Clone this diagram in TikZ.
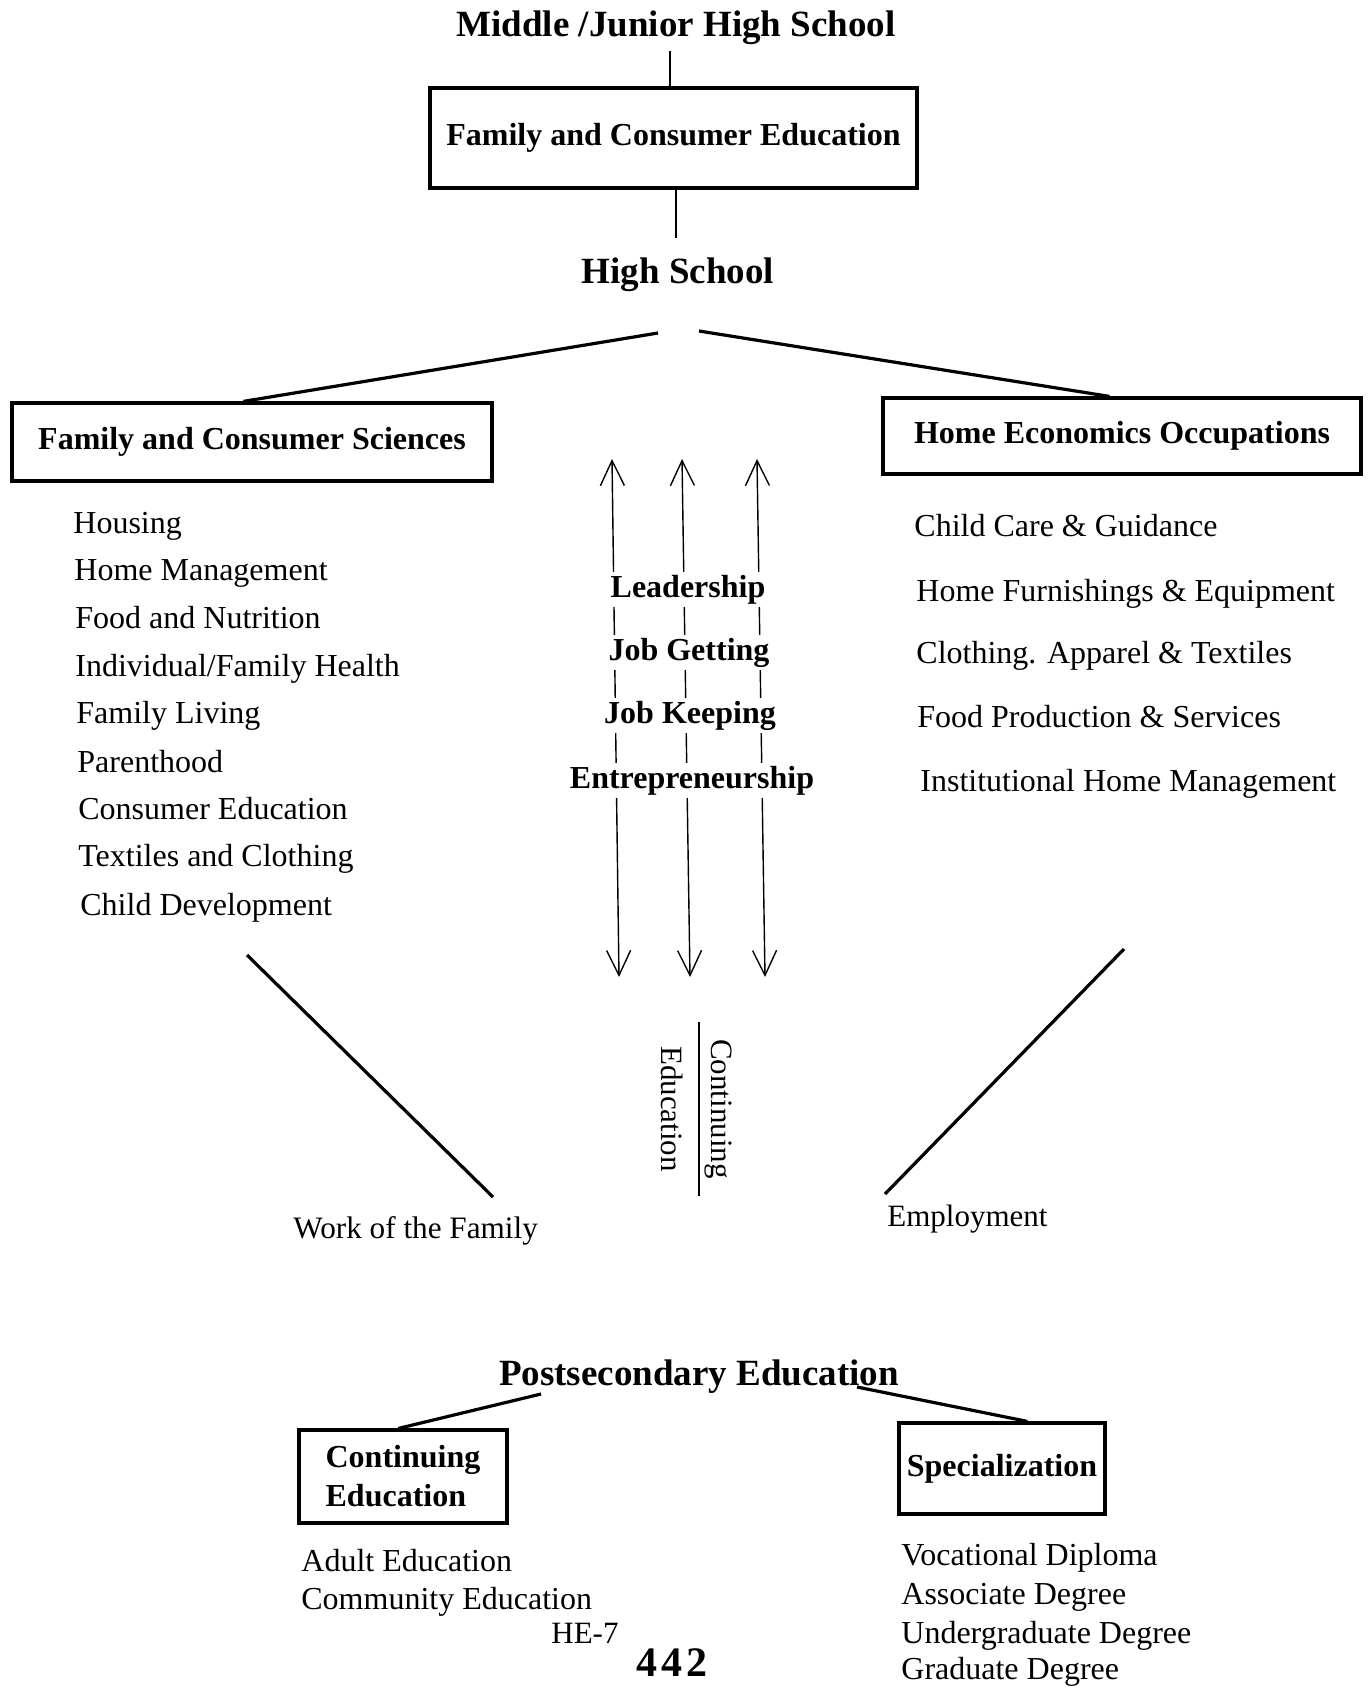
\documentclass[tikz,border=0pt]{standalone}
\usepackage{fontspec}
\setmainfont{Liberation Serif}
\usetikzlibrary{arrows.meta}
\begin{document}
\begin{tikzpicture}[x=0.5pt,y=-0.5pt,
  hd/.style={font=\fontsize{18.5}{22}\selectfont\bfseries, anchor=base},
  bx/.style={draw, line width=1.6pt, font=\fontsize{16}{19.5}\selectfont\bfseries, inner sep=0pt},
  item/.style={font=\fontsize{16}{19}\selectfont, anchor=base west, inner sep=0pt},
  skill/.style={font=\fontsize{16}{19}\selectfont\bfseries, anchor=base, fill=white, inner sep=1.5pt},
  rot/.style={font=\fontsize{15.5}{18}\selectfont, rotate=-90, inner sep=0pt},
  link/.style={line width=1.6pt},
  vline/.style={line width=1.1pt},
  dbl/.style={line width=0.7pt, {Straight Barb[length=12.5pt,width=12pt]}-{Straight Barb[length=12.5pt,width=12pt]}},
]
\useasboundingbox (0,0) rectangle (1367,1687);

% ---- top: middle school to high school
\node[hd] (mid) at (676,36) {Middle /Junior High School};
\node[bx, minimum width=243.5pt, minimum height=50pt] (fce) at (673.5,138) {Family and Consumer Education};
\node[hd] (hs) at (678,283) {High School};
\draw[vline] ([xshift=-1.75pt]fce.north) -- ([xshift=-1.75pt]fce.north |- mid.south);
\draw[vline] ([xshift=1.25pt]fce.south) -- ([xshift=1.25pt,yshift=6pt]fce.south |- hs.north);

% ---- the two high school programs
\node[bx, minimum width=240pt, minimum height=39pt] (fcs) at (252,442) {Family and Consumer Sciences};
\node[bx, minimum width=239pt, minimum height=38pt] (heo) at (1122,436) {Home Economics Occupations};
\coordinate (hsL) at (658,333);
\coordinate (hsR) at (699,331);
\draw[link] (hsL) -- ([xshift=116.5pt]fcs.north west);
\draw[link] (hsR) -- ([xshift=114pt]heo.north west);

% ---- family and consumer sciences topics
\node[item] (l1) at (73,533) {Housing};
\node[item] (l2) at (74,580) {Home Management};
\node[item] (l3) at (75,628) {Food and Nutrition};
\node[item] (l4) at (75,676) {Individual/Family Health};
\node[item] (l5) at (76,723) {Family Living};
\node[item] (l6) at (77,772) {Parenthood};
\node[item] (l7) at (78,819) {Consumer Education};
\node[item] (l8) at (78,866) {Textiles and Clothing};
\node[item] (l9) at (80,915) {Child Development};

% ---- occupations topics
\node[item] (r1) at (914,536) {Child Care \& Guidance};
\node[item] (r2) at (916,601) {Home Furnishings \& Equipment};
\node[item] (r3) at (916,663) {Clothing. Apparel \& Textiles};
\node[item] (r4) at (917,727) {Food Production \& Services};
\node[item] (r5) at (920,791) {Institutional Home Management};

% ---- shared skills, double arrows
\coordinate (a1t) at (612,459); \coordinate (a1b) at (619,977);
\coordinate (a2t) at (682,459); \coordinate (a2b) at (690,977);
\coordinate (a3t) at (757,459); \coordinate (a3b) at (765,977);
\draw[dbl] (a1t) -- (a1b);
\draw[dbl] (a2t) -- (a2b);
\draw[dbl] (a3t) -- (a3b);
\node[skill] (s1) at (688,597) {Leadership};
\node[skill] (s2) at (689,660) {Job Getting};
\node[skill] (s3) at (690,723) {Job Keeping};
\node[skill] (s4) at (692,788) {Entrepreneurship};

% ---- continuing education, set sideways
\node[rot] (ceA) at (718,1109) {Continuing};
\node[rot] (ceB) at (672,1109) {Education};
\coordinate (ruleT) at (699,1022);
\coordinate (ruleB) at (699,1196);
\draw[vline] (ruleT) -- (ruleB);

% ---- outcomes
\coordinate (wfT) at (247,955); \coordinate (wfB) at (493,1197);
\coordinate (emT) at (1124,949); \coordinate (emB) at (885,1194);
\draw[link] (wfT) -- (wfB);
\draw[link] (emT) -- (emB);
\node[item, font=\fontsize{15.6}{18}\selectfont] (work) at (293,1238) {Work of the Family};
\node[item, font=\fontsize{15.5}{18}\selectfont] (emp) at (887,1226) {Employment};

% ---- postsecondary
\node[hd] (ps) at (699,1385) {Postsecondary Education};
\node[bx, align=left, minimum width=104pt, minimum height=46.5pt] (ceb) at (403,1476.5) {Continuing\\Education};
\node[bx, minimum width=103pt, minimum height=45.5pt] (spec) at (1002,1468.5) {Specialization};
\coordinate (psL) at (541,1394);
\coordinate (psR) at (857,1387);
\draw[link] (psL) -- ([xshift=50.5pt]ceb.north west);
\draw[link] (psR) -- ([xshift=65pt]spec.north west);

\node[item] (b1) at (301,1571) {Adult Education};
\node[item] (b2) at (301,1609) {Community Education};
\node[item] (c1) at (901,1565) {Vocational Diploma};
\node[item] (c2) at (901,1604) {Associate Degree};
\node[item] (c3) at (901,1643) {Undergraduate Degree};
\node[item] (c4) at (901,1679) {Graduate Degree};

% ---- page marks
\node[item, font=\fontsize{15.5}{18}\selectfont] (pg) at (551,1643) {HE-7};
\node[item, font=\fontsize{21}{24}\selectfont\bfseries] (num) at (636,1676) {4\kern2pt4\kern2pt2};
\end{tikzpicture}
\end{document}
